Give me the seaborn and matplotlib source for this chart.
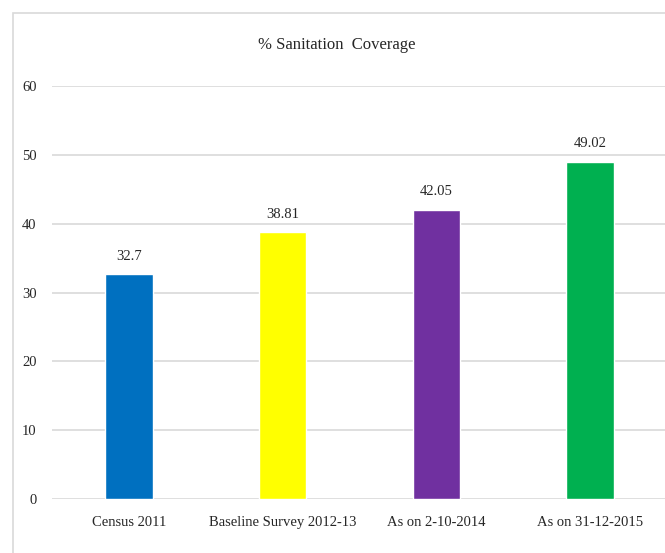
import pandas as pd
import matplotlib
matplotlib.use("Agg")
import matplotlib.pyplot as plt
import seaborn as sns
from matplotlib.patches import Rectangle

categories = ["Census 2011", "Baseline Survey 2012-13", "As on 2-10-2014", "As on 31-12-2015"]
coverage = [32.7, 38.81, 42.05, 49.02]
value_labels = ["32.7", "38.81", "42.05", "49.02"]
bar_colors = ["#0070C0", "#FFFF00", "#7030A0", "#00B050"]
y_ticks = [0, 10, 20, 30, 40, 50, 60]

sns.set_style("white")
plt.rcParams["font.family"] = ["Liberation Serif", "DejaVu Serif"]

df = pd.DataFrame({"category": categories, "coverage": coverage})

fig = plt.figure(figsize=(6.65, 5.53), dpi=100)
# light chart border like the office chart frame
fig.patches.append(Rectangle((13 / 665, -0.05), 1.1, 1 - 13 / 553 + 0.05,
                             transform=fig.transFigure, fill=False,
                             edgecolor="#D9D9D9", linewidth=1.2))

ax = fig.add_axes([52 / 665, 1 - 499 / 553, (667 - 52) / 665, 413 / 553])
sns.barplot(data=df, x="category", y="coverage", hue="category",
            palette=bar_colors, width=0.31, legend=False, ax=ax,
            saturation=1)

ax.set_ylim(0, 60)
ax.set_yticks(y_ticks)
ax.yaxis.grid(True, color="#D9D9D9", linewidth=1.2)
ax.set_axisbelow(True)
for s in ax.spines.values():
    s.set_visible(False)
ax.set_xlabel("")
ax.set_ylabel("")
ax.tick_params(axis="both", length=0, labelsize=10.5, colors="#262626")
ax.tick_params(axis="x", pad=12)
ax.tick_params(axis="y", pad=11)

for i, (v, lab) in enumerate(zip(coverage, value_labels)):
    ax.annotate(lab, (i, v), xytext=(0, 8), textcoords="offset points",
                ha="center", va="bottom", fontsize=10.5, color="#262626")

fig.text(337 / 665, 1 - 45 / 553, "% Sanitation  Coverage", ha="center",
         va="center", fontsize=12, color="#262626")

fig.savefig("out.png", dpi=100)
